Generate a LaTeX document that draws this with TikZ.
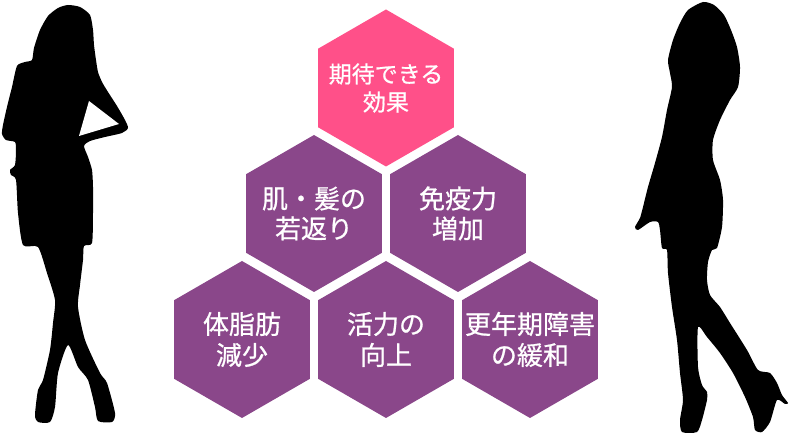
\documentclass[tikz,border=0pt]{standalone}
\usepackage{fontspec}
\newfontfamily\jpfont[FakeBold=0.8]{Noto Sans CJK JP}
\usetikzlibrary{shapes.geometric}
\definecolor{hexpink}{HTML}{FF5089}
\definecolor{hexpurple}{HTML}{8A478A}
\begin{document}
\begin{tikzpicture}[x=1pt, y=-1pt,
 hexa/.style={regular polygon, regular polygon sides=6, regular polygon rotate=30, minimum size=157pt, inner sep=0pt, fill=hexpurple},
 word/.style={text=white, align=center, inner sep=0pt, font=\jpfont\fontsize{26}{31}\selectfont}]
 \useasboundingbox (0,0) rectangle (790,435);
 % left woman
 \fill[black] plot[smooth cycle, tension=.4] coordinates {(68,5) (80,7) (90,15) (93,30) (94,45) (96,60) (98,72) (102,82) (108,92) (117,106) (125,120) (128,128) (122,133) (105,137) (90,141) (84,146) (88,157) (92,170) (93,187) (93,213) (92,243) (84,246) (83,260) (80,285) (78,307) (85,340) (100,373) (107,383) (115,413) (112,422) (98,421) (95,407) (88,380) (78,367) (68,345) (58,373) (55,407) (50,422) (38,422) (35,415) (38,390) (43,380) (50,350) (53,323) (55,300) (47,273) (38,247) (23,245) (18,213) (16,180) (11,175) (10,170) (15,165) (16,150) (15,142) (6,140) (2,134) (3,125) (7,107) (12,87) (17,66) (25,62) (32,60) (34,48) (40,30) (48,16) (58,8)};
 \fill[white] (89,101)--(119,124)--(79,136)--cycle;
 % right woman
 \fill[black] plot[smooth cycle, tension=.4] coordinates {(703,2) (714,5) (724,15) (731,30) (737,47) (740,67) (738,87) (730,100) (720,120) (713,140) (713,160) (720,180) (723,200) (722,227) (717,248) (712,250) (708,262) (707,280) (710,295) (720,307) (730,323) (747,350) (758,370) (770,373) (777,383) (782,395) (788,403) (785,404) (777,400) (770,422) (762,432) (755,430) (753,417) (745,397) (733,373) (720,353) (707,337) (698,327) (698,367) (702,385) (707,392) (707,400) (702,420) (697,432) (682,432) (680,420) (683,400) (680,373) (677,340) (672,307) (668,273) (667,250) (662,248) (660,230) (658,222) (650,222) (638,230) (635,227) (640,218) (643,207) (648,187) (655,163) (662,137) (667,110) (672,87) (670,73) (668,60) (673,40) (680,23) (688,10)};
 % hexagons
 \node[hexa, fill=hexpink] (h1) at (386,88) {};
 \node[hexa] (h2) at (314,213.5) {};
 \node[hexa] (h3) at (458,213.5) {};
 \node[hexa] (h4) at (242,339.5) {};
 \node[hexa] (h5) at (386,339.5) {};
 \node[hexa] (h6) at (530,339.5) {};
 \node[word, font=\jpfont\fontsize{23}{28}\selectfont] (t1) at (h1) {期待できる\\効果};
 \node[word, font=\jpfont\fontsize{26}{30}\selectfont] (t2) at (h2) {肌・髪の\\若返り};
 \node[word, font=\jpfont\fontsize{26}{30}\selectfont] (t3) at (h3) {免疫力\\増加};
 \node[word] (t4) at (h4) {体脂肪\\減少};
 \node[word] (t5) at (h5) {活力の\\向上};
 \node[word] (t6) at (h6) {更年期障害\\の緩和};
\end{tikzpicture}
\end{document}
